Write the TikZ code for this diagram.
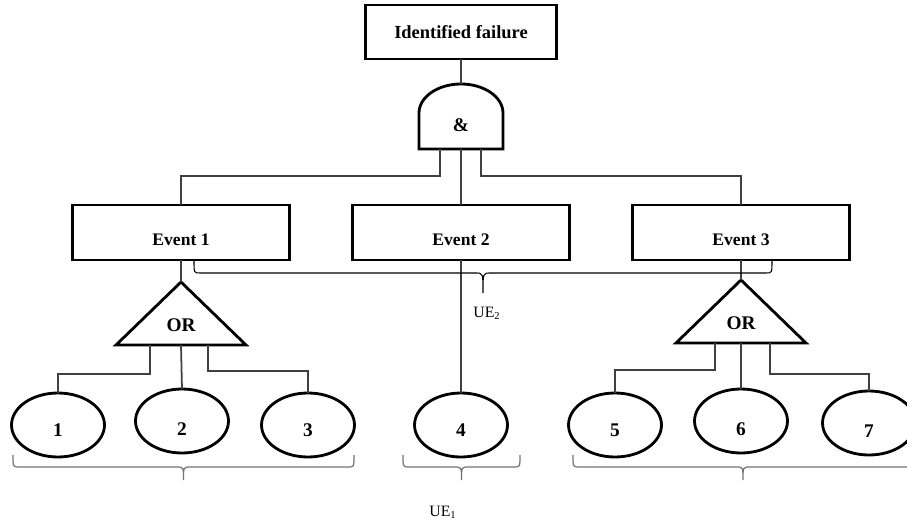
\documentclass[tikz,border=0pt]{standalone}
\usepackage{fontspec}
\setmainfont{Liberation Serif}
\usetikzlibrary{shapes.geometric}
\def\ue#1{UE\textsubscript{#1}}
% brace under a group: [style]{left x}{right x}{top y}{tip depth}
\newcommand\hbrace[5][]{%
  \draw[ubrace,#1] (#2,#4) .. controls (#2,#4+12) .. ({#2+6},{#4+12})
    -- ({(#2+#3)/2-7},{#4+12}) .. controls ({(#2+#3)/2},{#4+12}) .. ({(#2+#3)/2},{#4+#5})
    .. controls ({(#2+#3)/2},{#4+12}) .. ({(#2+#3)/2+7},{#4+12})
    -- ({#3-6},{#4+12}) .. controls (#3,{#4+12}) .. (#3,#4);}

\begin{document}
\begin{tikzpicture}[x=0.02cm, y=-0.02cm,
    box/.style={draw, line width=1.6pt, inner sep=0pt, outer sep=0pt, font={\bfseries\fontsize{10}{12}\selectfont}},
    event/.style={box, minimum width=4.34cm, minimum height=1.1cm, text height=15pt, text depth=0pt},
    gate/.style={minimum width=2.6cm, minimum height=1.26cm, inner sep=0pt, outer sep=0pt, text height=20pt, text depth=0pt, font={\bfseries\fontsize{11}{13}\selectfont}},
    gateline/.style={draw, line width=1.6pt, line join=miter},
    basic/.style={ellipse, draw, line width=1.6pt, minimum width=1.86cm, minimum height=1.28cm, inner sep=0pt, outer sep=0pt, text height=13pt, text depth=0pt, font={\bfseries\fontsize{11}{13}\selectfont}},
    wire/.style={draw=black!75, line width=1pt},
    ubrace/.style={draw=black!55, line width=0.7pt},
    ue/.style={font={\fontsize{9}{11}\selectfont}}]
    \clip (0,0) rectangle (907,521);

    % top event and the AND gate
    \node[box, minimum width=3.82cm, minimum height=1.08cm, font={\bfseries\fontsize{10.5}{12}\selectfont}] (top) at (461,32) {Identified failure};
    \node[gate, minimum width=1.68cm, minimum height=1.3cm, text height=17pt, font={\bfseries\fontsize{11}{13}\selectfont}] (and) at (461,116.5) {\&};
    \draw[gateline] (and.south west) -- ++(0,-36) arc[start angle=180, end angle=0, x radius=0.84cm, y radius=0.58cm] -- (and.south east) -- cycle;
    \draw[wire] (top) -- (and);

    % intermediate events
    \node[event] (ev1) at (181,232.5) {Event 1};
    \node[event] (ev2) at (461,232.5) {Event 2};
    \node[event] (ev3) at (741,232.5) {Event 3};
    \draw[wire] (and.south) ++(-21,0) -- ++(0,27) -| (ev1.north);
    \draw[wire] (and) -- (ev2);
    \draw[wire] (and.south) ++(20,0) -- ++(0,27) -| (ev3.north);

    % OR gates
    \node[gate] (or1) at (181,313.5) {OR};
    \draw[gateline] (or1.south west) -- (or1.north) -- (or1.south east) -- cycle;
    \node[gate] (or2) at (741,311.5) {OR};
    \draw[gateline] (or2.south west) -- (or2.north) -- (or2.south east) -- cycle;
    \draw[wire] (ev1) -- (or1);
    \draw[wire] (ev3) -- (or2);

    % basic events
    \node[basic] (b1) at (58,425) {1};
    \node[basic, text height=16pt] (b2) at (182,421) {2};
    \node[basic] (b3) at (308,425) {3};
    \node[basic] (b4) at (461,425) {4};
    \node[basic] (b5) at (615,425) {5};
    \node[basic, text height=17pt] (b6) at (741,421) {6};
    \node[basic, text height=16pt] (b7) at (869,423) {7};
    \draw[wire] (or1.south) ++(-31,0) -- ++(0,29) -| (b1.north);
    \draw[wire] (or1.south) -- (b2.north);
    \draw[wire] (or1.south) ++(27,0) -- ++(0,26) -| (b3.north);
    \draw[wire] (ev2) -- (b4);
    \draw[wire] (or2.south) ++(-26,0) -- ++(0,27) -| (b5.north);
    \draw[wire] (or2.south) -- (b6.north);
    \draw[wire] (or2.south) ++(29,0) -- ++(0,31) -| (b7.north);

    % braces
    \hbrace{13}{354}{455}{25}
    \hbrace{403}{520}{455}{25}
    \hbrace{573}{913}{455}{25}
    \hbrace[draw=black, line width=0.6pt]{194}{772}{261}{32}
    \node[ue] (ue1) at (443,512) {\ue{1}};
    \node[ue] (ue2) at (487,313) {\ue{2}};
\end{tikzpicture}
\end{document}
